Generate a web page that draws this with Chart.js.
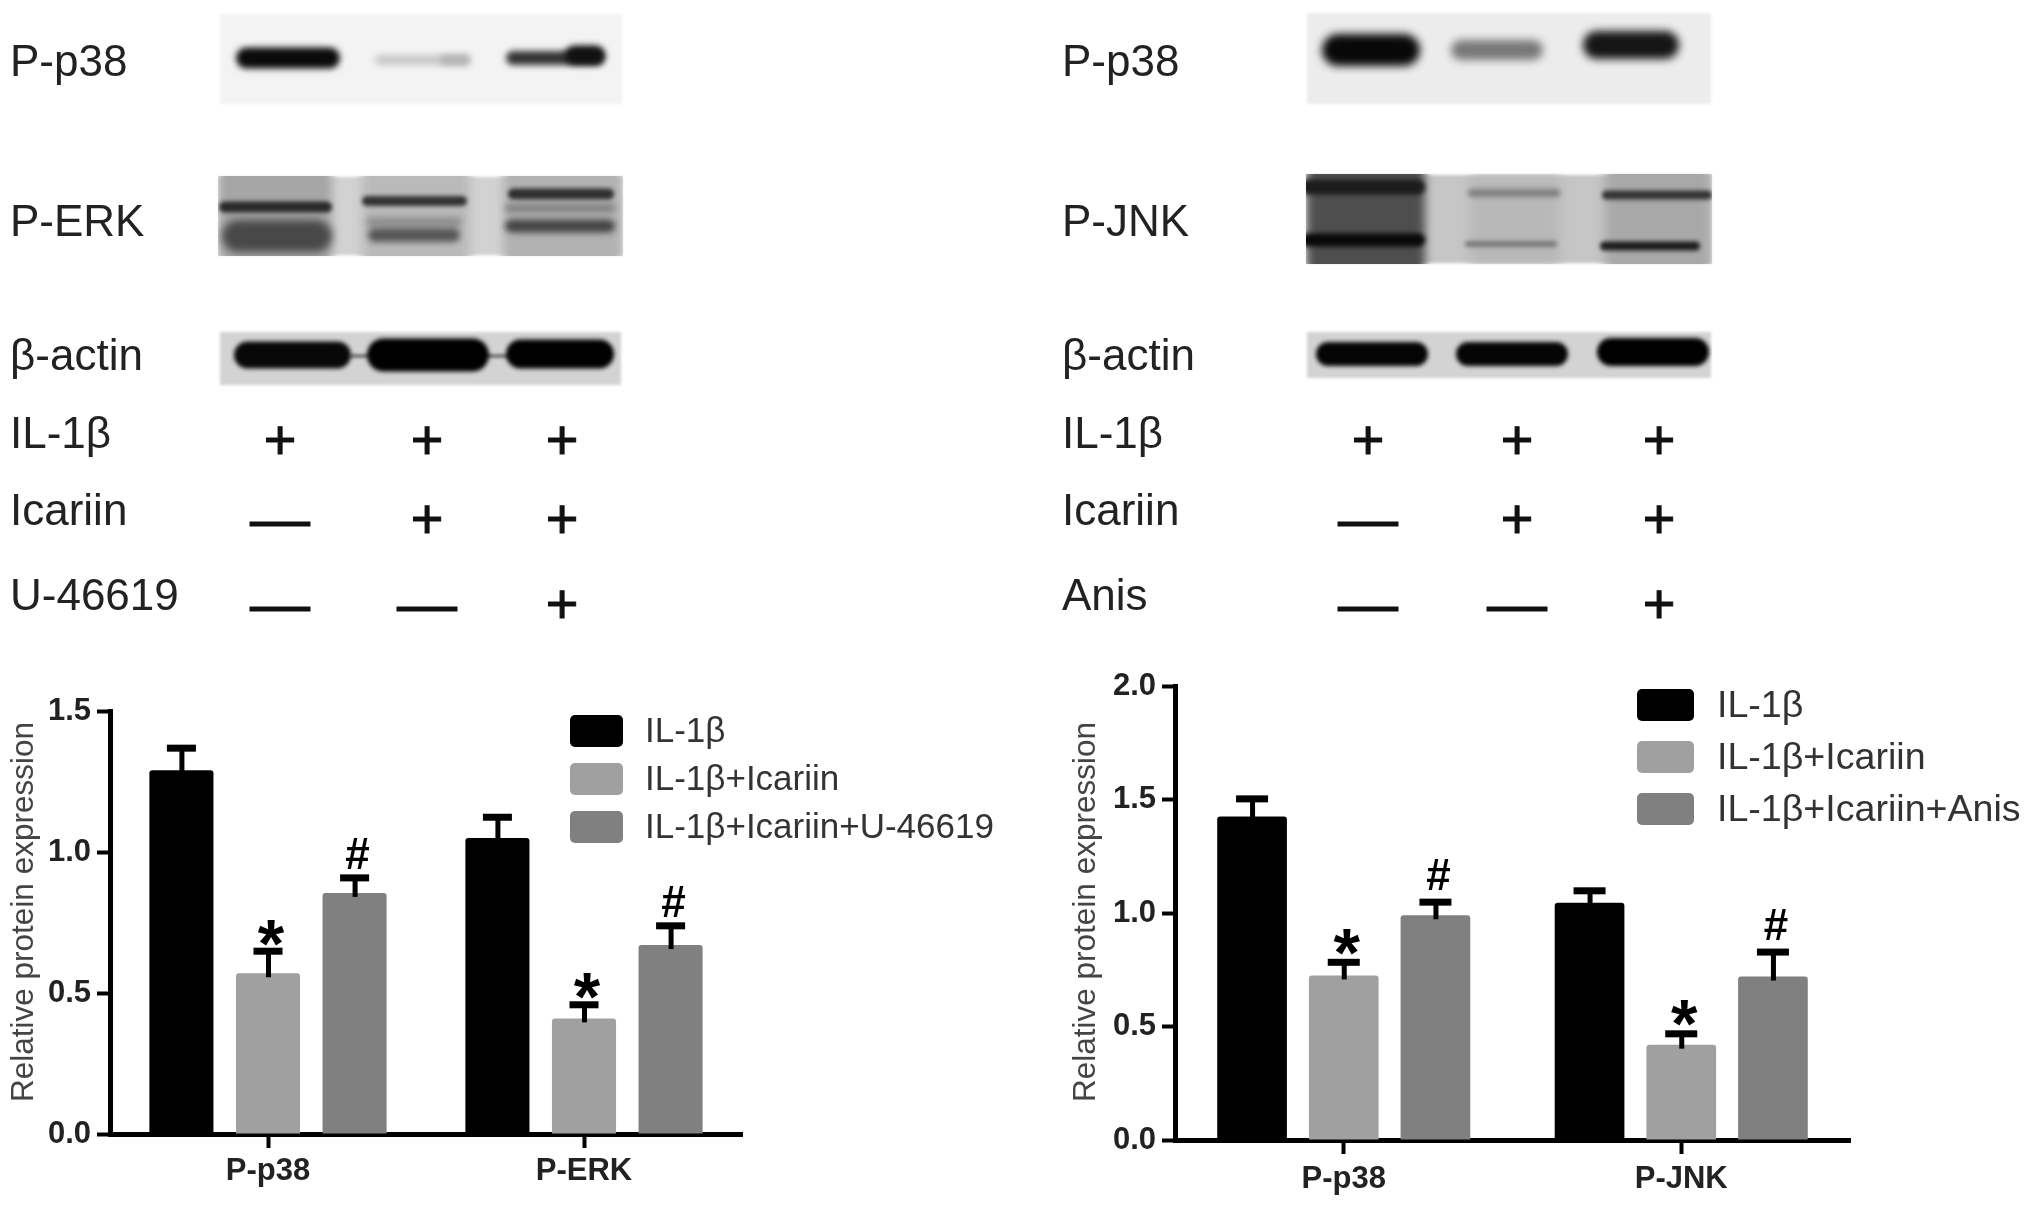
<!DOCTYPE html>
<html>
<head>
<meta charset="utf-8">
<title>Relative protein expression</title>
<script src="https://cdn.jsdelivr.net/npm/chart.js@4"></script>
<style>
  body { margin: 0; background: #fff; width: 2031px; height: 1207px; overflow: hidden; position: relative; font-family: "Liberation Sans", Arial, sans-serif; }
  canvas { position: absolute; }
  .lbl { position: absolute; font-size: 44px; line-height: 1; color: #222; white-space: nowrap; transform: translateY(-50%); }
  .sign { position: absolute; line-height: 1; color: #111; transform: translate(-50%, -50%); -webkit-text-stroke: 1px #111; }
</style>
</head>
<body>
<canvas id="blots" width="2031" height="660" style="left:0;top:0"></canvas>
<canvas id="chartLeft" width="1015" height="547" style="left:0;top:660px"></canvas>
<canvas id="chartRight" width="991" height="557" style="left:1040px;top:650px"></canvas>
<script>
// left chart values
const categoriesLeft = ["P-p38", "P-ERK"];
const seriesLeft = ["IL-1β", "IL-1β+Icariin", "IL-1β+Icariin+U-46619"];
const il1bLeft = [1.29, 1.05];
const icariinLeft = [0.57, 0.41];
const u46619Left = [0.855, 0.67];
const il1bLeftErr = [1.37, 1.125];
const icariinLeftErr = [0.65, 0.46];
const u46619LeftErr = [0.91, 0.74];
const ticksLeft = [0, 0.5, 1.0, 1.5];

// right chart values
const categoriesRight = ["P-p38", "P-JNK"];
const seriesRight = ["IL-1β", "IL-1β+Icariin", "IL-1β+Icariin+Anis"];
const il1bRight = [1.425, 1.045];
const icariinRight = [0.725, 0.42];
const anisRight = [0.99, 0.72];
const il1bRightErr = [1.505, 1.10];
const icariinRightErr = [0.785, 0.47];
const anisRightErr = [1.05, 0.83];
const ticksRight = [0, 0.5, 1.0, 1.5, 2.0];

const seriesColors = ["#000000", "#a0a0a0", "#808080"];
const seriesMarks = ["", "*", "#"];
const yTitle = "Relative protein expression";

const FONT = '"Liberation Sans", Arial, sans-serif';

// text centred on its real glyph box
function glyphText(ctx, text, x, y) {
  const m = ctx.measureText(text);
  ctx.textAlign = "center";
  ctx.textBaseline = "alphabetic";
  ctx.fillText(text, x, y + (m.actualBoundingBoxAscent - m.actualBoundingBoxDescent) / 2);
}

const errorBars = {
  id: "errorBars",
  afterDatasetsDraw(chart, args, opts) {
    const ctx = chart.ctx;
    const y = chart.scales.y;
    ctx.save();
    chart.data.datasets.forEach((ds, i) => {
      chart.getDatasetMeta(i).data.forEach((bar, k) => {
        const top = y.getPixelForValue(ds.errTop[k]);
        ctx.fillStyle = "#000";
        ctx.fillRect(bar.x - 2, top, 5, bar.y - top + 4);
        ctx.fillRect(bar.x - opts.cap / 2, top - 3, opts.cap, 7);
        if (ds.mark) {
          ctx.font = ds.mark == "*" ? "bold 68px " + FONT : "bold 44px " + FONT;
          glyphText(ctx, ds.mark, bar.x + 3, top - (ds.mark == "*" ? opts.starGap : opts.hashGap));
        }
      });
    });
    ctx.restore();
  }
};

// axis title and legend sit where the figure has them, not where the layout would put them
const sideText = {
  id: "sideText",
  afterDraw(chart, args, opts) {
    const ctx = chart.ctx;
    ctx.save();
    ctx.translate(opts.titleX, opts.titleY);
    ctx.rotate(-Math.PI / 2);
    ctx.fillStyle = "#444";
    ctx.font = "31.5px " + FONT;
    ctx.textAlign = "center";
    ctx.textBaseline = "middle";
    ctx.fillText(yTitle, 0, 0);
    ctx.restore();

    ctx.save();
    chart.data.datasets.forEach((ds, i) => {
      const top = opts.top + i * opts.step;
      ctx.fillStyle = ds.backgroundColor;
      ctx.beginPath();
      ctx.roundRect(opts.x, top, opts.w, opts.h, 5);
      ctx.fill();
      ctx.fillStyle = "#333";
      ctx.font = opts.size + "px " + FONT;
      ctx.textAlign = "left";
      ctx.textBaseline = "middle";
      ctx.fillText(ds.label, opts.textX, top + opts.h / 2 + opts.textDy);
    });
    ctx.restore();
  }
};

function makeChart(id, categories, series, values, errs, ticks, yMax, p) {
  return new Chart(document.getElementById(id), {
    type: "bar",
    data: {
      labels: categories,
      datasets: series.map((name, i) => ({
        label: name,
        data: values[i],
        errTop: errs[i],
        mark: seriesMarks[i],
        backgroundColor: seriesColors[i],
        borderRadius: 3,
        borderSkipped: "bottom",
        categoryPercentage: p.catPct,
        barPercentage: p.barPct
      }))
    },
    options: {
      responsive: false,
      animation: false,
      layout: { padding: { top: p.top, right: p.right, left: 0, bottom: 0 } },
      plugins: {
        legend: { display: false },
        tooltip: { enabled: false },
        errorBars: { cap: p.cap, starGap: p.starGap, hashGap: p.hashGap },
        sideText: p.side
      },
      scales: {
        x: {
          afterFit: a => { a.height = p.xHeight; },
          grid: { drawOnChartArea: false, drawTicks: true, tickLength: 14, tickWidth: 4, tickColor: "#000", offset: false },
          border: { color: "#000", width: 5 },
          ticks: { color: "#222", padding: p.xPad, font: { family: FONT, size: 31, weight: "bold" } }
        },
        y: {
          min: 0,
          max: yMax,
          afterFit: a => { a.width = p.axisX; },
          afterBuildTicks: a => { a.ticks = ticks.map(v => ({ value: v })); },
          grid: { drawOnChartArea: false, drawTicks: true, tickLength: 13, tickWidth: 4, tickColor: "#000" },
          border: { color: "#000", width: 5 },
          ticks: { color: "#222", padding: 6, callback: v => v.toFixed(1), font: { family: FONT, size: 31, weight: "bold" } }
        }
      }
    },
    plugins: [errorBars, sideText]
  });
}

makeChart("chartLeft", categoriesLeft, seriesLeft,
  [il1bLeft, icariinLeft, u46619Left], [il1bLeftErr, icariinLeftErr, u46619LeftErr],
  ticksLeft, 1.5, {
    top: 51, right: 273, axisX: 110, xHeight: 73, xPad: 5, catPct: 0.822, barPct: 0.74,
    cap: 29, starGap: 18, hashGap: 24,
    side: { titleX: 24, titleY: 252, x: 570, top: 55, step: 48, w: 53, h: 32, textX: 645, textDy: 1, size: 35 }
  });

makeChart("chartRight", categoriesRight, seriesRight,
  [il1bRight, icariinRight, anisRight], [il1bRightErr, icariinRightErr, anisRightErr],
  ticksRight, 2.0, {
    top: 36, right: 181, axisX: 135, xHeight: 67, xPad: 7, catPct: 0.815, barPct: 0.76,
    cap: 32, starGap: 20, hashGap: 27,
    side: { titleX: 46, titleY: 262, x: 597, top: 39, step: 52, w: 57, h: 32, textX: 677, textDy: 2, size: 37.6 }
  });

// row labels and +/- table
const rowNamesLeft = ["P-p38", "P-ERK", "β-actin", "IL-1β", "Icariin", "U-46619"];
const rowNamesRight = ["P-p38", "P-JNK", "β-actin", "IL-1β", "Icariin", "Anis"];
const rowY = [61, 221, 355, 433, 510, 595];
const signRows = [["+", "+", "+"], ["—", "+", "+"], ["—", "—", "+"]];
const signRowY = [440, 519, 604];
const signColsLeft = [280, 427, 562];
const signColsRight = [1368, 1517, 1659];

function addLabels(names, x) {
  names.forEach((n, i) => {
    const d = document.createElement("div");
    d.className = "lbl";
    d.textContent = n;
    d.style.left = x + "px";
    d.style.top = rowY[i] + "px";
    document.body.appendChild(d);
  });
}
function addSigns(cols) {
  signRows.forEach((row, r) => {
    row.forEach((s, c) => {
      const d = document.createElement("div");
      d.className = "sign";
      d.textContent = s;
      d.style.left = cols[c] + "px";
      d.style.top = signRowY[r] + "px";
      d.style.fontSize = s == "—" ? "60px" : "56px";
      document.body.appendChild(d);
    });
  });
}
addLabels(rowNamesLeft, 10);
addLabels(rowNamesRight, 1062);
addSigns(signColsLeft);
addSigns(signColsRight);

// western blot panels, just painted
const bl = document.getElementById("blots").getContext("2d");

function panel(x, y, w, h, color, lanes) {
  bl.restore();
  bl.save();
  bl.filter = "blur(1.5px)";
  bl.fillStyle = color;
  bl.fillRect(x, y, w, h);
  bl.beginPath();
  bl.rect(x - 1, y - 1, w + 2, h + 2);
  bl.clip();
}
function lane(x, y, w, h, color, blur) {
  bl.filter = "blur(" + blur + "px)";
  bl.fillStyle = color;
  bl.fillRect(x, y - 20, w, h + 40);
}
function band(x, y, w, h, color, blur) {
  bl.filter = "blur(" + blur + "px)";
  bl.fillStyle = color;
  bl.beginPath();
  bl.roundRect(x, y - h / 2, w, h, h / 2);
  bl.fill();
}
bl.save();

// left, P-p38
panel(220, 14, 402, 90, "#f3f3f3");
band(236, 58, 104, 21, "#0a0a0a", 3);
band(375, 60, 95, 10, "#c8c8c8", 3);
band(440, 60, 30, 10, "#b4b4b4", 3);
band(506, 58, 98, 14, "#333", 3);
band(565, 55, 40, 19, "#111", 3);

// left, P-ERK
panel(219, 177, 403, 78, "#d2d2d2");
lane(219, 177, 113, 78, "#a6a6a6", 5);
lane(362, 177, 108, 78, "#bababa", 5);
lane(503, 177, 119, 78, "#b2b2b2", 5);
band(219, 207, 113, 11, "#2a2a2a", 2);
band(222, 236, 110, 32, "#484848", 4);
band(362, 201, 105, 10, "#333", 2);
band(366, 222, 96, 10, "#909090", 3);
band(368, 235, 92, 14, "#555", 3);
band(508, 194, 106, 11, "#2e2e2e", 2);
band(505, 208, 110, 8, "#808080", 3);
band(505, 226, 110, 13, "#444", 3);

// left, beta-actin
panel(220, 332, 401, 53, "#d3d3d3");
band(350, 356, 20, 4, "#777", 1.5);
band(485, 356, 25, 4, "#777", 1.5);
band(234, 355, 117, 27, "#080808", 2);
band(367, 355, 122, 33, "#000", 2);
band(506, 354, 108, 29, "#000", 2);

// right, P-p38
panel(1307, 13, 404, 91, "#ececec");
band(1322, 50, 98, 32, "#080808", 4);
band(1451, 50, 92, 20, "#777", 4);
band(1583, 45, 96, 28, "#151515", 4);

// right, P-JNK
panel(1307, 175, 404, 88, "#c6c6c6");
lane(1307, 175, 118, 88, "#4e4e4e", 5);
lane(1605, 175, 106, 88, "#a8a8a8", 6);
lane(1470, 195, 90, 50, "#b8b8b8", 6);
band(1300, 187, 125, 15, "#1c1c1c", 2.5);
band(1300, 240, 125, 13, "#080808", 2.5);
band(1468, 193, 92, 8, "#808080", 2.5);
band(1465, 244, 92, 6, "#777", 2);
band(1602, 195, 110, 9, "#333", 2);
band(1600, 246, 100, 9, "#1c1c1c", 2);

// right, beta-actin
panel(1307, 332, 404, 46, "#d3d3d3");
band(1316, 354, 112, 24, "#050505", 2);
band(1456, 354, 112, 24, "#050505", 2);
band(1597, 352, 112, 28, "#000", 2);
bl.restore();
bl.filter = "none";
</script>
</body>
</html>
